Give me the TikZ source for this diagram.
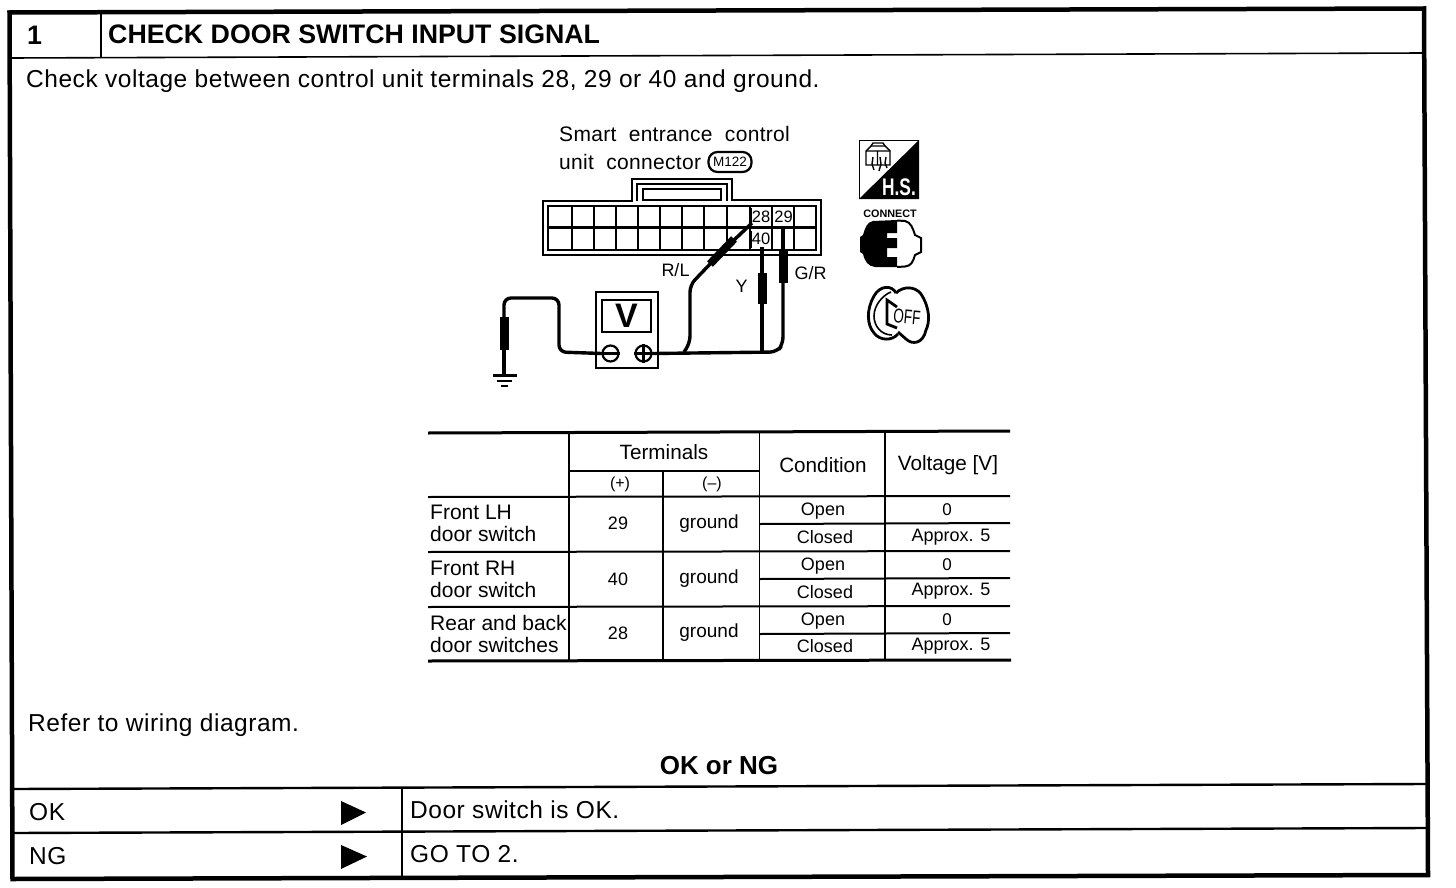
\documentclass[tikz,border=0pt]{standalone}
\usepackage{fontspec}
\setmainfont{Liberation Sans}
\begin{document}
\begin{tikzpicture}[x=1pt,y=-1pt,
            thin line/.style={line width=1.6pt},
            thick line/.style={line width=3pt},
            wire/.style={line width=3.4pt,rounded corners=7pt},
            probe/.style={line width=9pt},
            tip/.style={line width=4pt},
            body text/.style={inner sep=0pt,anchor=base west,font=\fontsize{24.5}{26}\selectfont\addfontfeature{LetterSpace=2.2}},
            title text/.style={inner sep=0pt,anchor=base west,font=\fontsize{26.75}{28}\selectfont\bfseries},
            small text/.style={inner sep=0pt,font=\fontsize{20.7}{23}\selectfont},
            pin text/.style={inner sep=0pt,font=\fontsize{16.5}{17}\selectfont}]

        \useasboundingbox (0,0) rectangle (1456,888);

        % Define frame
        \draw[line width=4.5pt,line join=miter] (9.5,12.5) -- (1424,8.5) -- (1428,875) -- (12.5,879) -- cycle;
        \draw[thin line] (10,58) -- (1424,53);
        \draw[thin line] (101,13) -- (101,57);
        \draw[line width=2.4pt] (12,789) -- (1426,784);
        \draw[line width=2.4pt] (12,833) -- (1427,828);
        \draw[thin line] (402,788) -- (402,877);

        % Define texts
        \node[title text] (num) at (27,45) {1};
        \node[title text] (title) at (108,44) {CHECK DOOR SWITCH INPUT SIGNAL};
        \node[body text] (check) at (26,88) {Check voltage between control unit terminals 28, 29 or 40 and ground.};
        \node[body text] (refer) at (28,731) {Refer to wiring diagram.};
        \node[title text,anchor=base,font=\fontsize{26}{28}\selectfont\bfseries] (oking) at (719,774) {OK or NG};
        \node[body text] (ok) at (29,820) {OK};
        \node[body text] (ng) at (29,864) {NG};
        \node[body text] (isok) at (410,818) {Door switch is OK.};
        \node[body text] (goto) at (410,862) {GO TO 2.};
        \fill (341,801) -- (366,812.5) -- (341,825) -- cycle;
        \fill (341,845) -- (367,856.5) -- (341,869) -- cycle;

        % Define connector
        \node[inner sep=0pt,anchor=base west,font=\fontsize{21}{23}\selectfont\addfontfeature{LetterSpace=1.5}] (smart) at (559,142) {Smart \ entrance \ control};
        \node[inner sep=0pt,anchor=base west,font=\fontsize{21}{23}\selectfont\addfontfeature{LetterSpace=1.5}] (unit) at (559,169) {unit \ connector};
        \node[draw,line width=2.2pt,rounded corners=9pt,inner sep=0pt,minimum width=43pt,minimum height=20pt,
              font=\fontsize{13.5}{15}\selectfont] (m122) at (730,162) {M122};
        \draw[thin line] (543,201) -- (632,201) -- (632,179) -- (732,179) -- (732,200) -- (821,200) -- (821,255) -- (543,255) -- cycle;
        \draw[thin line] (637,201) -- (637,184) -- (727,184) -- (727,201);
        \draw[line width=2pt] (642.5,189) rectangle (720.5,200);
        \draw[line width=2.2pt] (548,206) rectangle (816,250);
        \draw[line width=2.6pt] (548,227.5) -- (816,227.5);
        \foreach \xpos in {572,594,616,638,660,682,704,727,750,772,794}
            \draw[line width=1.8pt] (\xpos,206) -- (\xpos,250);
        \fill[white] (752,208) rectangle (770.5,225.5);
        \fill[white] (774,208) rectangle (792.5,225.5);
        \fill[white] (752,230) rectangle (770.5,248);
        \draw[line width=3pt] (750,208) -- (750,225) (750,231) -- (750,248);
        \node[pin text] (p28) at (761,216.5) {28};
        \node[pin text] (p29) at (783.5,216.5) {29};
        \node[pin text] (p40) at (761,239) {40};

        % Define meter
        \draw[line width=2.6pt] (596,292) rectangle (658,368);
        \draw[line width=2.6pt] (602,300) rectangle (651,332);
        \node[inner sep=0pt,font=\fontsize{34}{36}\selectfont\bfseries] (volt) at (626.5,316) {V};
        \node[draw,circle,line width=2.2pt,minimum size=16pt,inner sep=0pt] (minus) at (610.5,353.5) {};
        \node[draw,circle,line width=2.2pt,minimum size=16pt,inner sep=0pt] (plus) at (643.5,353.5) {};
        \draw[line width=2.2pt] (minus.west) -- (minus.east);
        \draw[line width=2.2pt] (plus.west) -- (plus.east) (plus.north) -- (plus.south);

        % Define wires
        \coordinate (tipa) at (752,223);
        \coordinate (tipb) at (762,247);
        \coordinate (tipc) at (783,228);
        \coordinate (joina) at (684,352);
        \coordinate (joinb) at (762,352);
        \coordinate (earth) at (504,375);
        \draw[wire] (plus.east) -- (777,352) -- (783,344) -- (783,282);
        \draw[wire] (joina) -- (690,343) -- (690,285) -- (712,262);
        \draw[wire] (joinb) -- (762,300);
        \draw[wire] (minus.west) -- (559,352) -- (559,298) -- (504,298) -- (504,320);
        \draw[line width=3.5pt] (tipa) -- (733,241);
        \draw[line width=8pt] (734,239) -- (710,264);
        \draw[tip] (tipb) -- (762,275);
        \draw[probe] (762,273) -- (762,304);
        \draw[tip] (tipc) -- (783,252);
        \draw[probe] (783,250) -- (783,283);
        \draw[probe] (504,317) -- (504,350);
        \draw[tip] (504,350) -- (earth);
        \draw[line width=2.2pt] (493,375.5) -- (517,375.5);
        \draw[line width=2.2pt] (497,381) -- (512,381);
        \draw[line width=2.2pt] (501,386) -- (508,386);

        % Wire labels
        \node[pin text,font=\fontsize{18}{19}\selectfont] (rl) at (675.5,270) {R/L};
        \node[pin text,font=\fontsize{18}{19}\selectfont] (yw) at (741.5,286) {Y};
        \node[pin text,font=\fontsize{18}{19}\selectfont] (gr) at (810.5,273.5) {G/R};

        % Define icons
        \draw[line width=1.5pt] (859.5,140.5) rectangle (918.5,198.5);
        \fill (919,140) -- (919,199) -- (859,199) -- cycle;
        \node[inner sep=0pt,white,xscale=.72,font=\fontsize{24}{25}\selectfont\bfseries] (hs) at (899,187) {H.S.};
        \draw[line width=1.4pt] (866,151) -- (871,146) -- (885,146) -- (890,151) -- (890,165) -- (866,165) -- cycle;
        \draw[line width=1.4pt] (866,151) -- (890,151) (871,146) -- (873,143) -- (883,143) -- (885,146) (877.5,151) -- (877.5,165);
        \draw[line width=1.4pt] (873,157) -- (872,164) -- (874,170) (880,157) -- (881,164) -- (879,171) (886,157) -- (885,163) -- (887,168);
        \node[inner sep=0pt,font=\fontsize{10.8}{11}\selectfont\bfseries] (conn) at (890,214) {CONNECT};
        \fill (897,220) -- (873,221) .. controls (867,222) and (865,228) .. (863,235) -- (860,237) -- (860,252)
            -- (863,254) .. controls (865,262) and (868,266) .. (875,267) -- (897,267) -- (897,257) -- (887,257) -- (887,248)
            -- (897,248) -- (897,238) -- (887,238) -- (887,233) -- (897,233) -- cycle;
        \draw[line width=2pt] (897,220.5) -- (905,221) .. controls (911,222) and (913,229) .. (915,235) -- (921,238) -- (921,252)
            -- (915,255) .. controls (913,262) and (911,266) .. (905,266.5) -- (897,267);
        % key
        \draw[line width=2.8pt] (896,293) .. controls (892,285) and (880,285) .. (874,296) .. controls (866,310) and (867,325) .. (874,333)
            .. controls (880,341) and (892,341) .. (898,334);
        \draw[line width=1.6pt] (891,292) .. controls (883,295) and (874,305) .. (874,316) .. controls (874,326) and (881,335) .. (892,335);
        \draw[line width=2.8pt] (896,293) .. controls (903,286) and (915,286) .. (921,294) .. controls (930,308) and (930,322) .. (926,330)
            .. controls (923,344) and (912,345) .. (906,339) -- (898,332);
        \draw[line width=2.8pt] (897,307) -- (887,300) -- (887,324) -- (897,328);
        \node[inner sep=0pt,rotate=-5,xscale=.68,font=\fontsize{20}{21}\selectfont] (off) at (907,317) {OFF};

        % Define table
        \draw[thick line] (428,433) -- (1010,431);
        \draw[line width=2pt] (428,497) -- (1010,496);
        \draw[line width=2pt] (428,552) -- (1010,551);
        \draw[line width=2pt] (428,607) -- (1010,606);
        \draw[thick line] (428,661) -- (1011,660);
        \draw[line width=2pt] (568,471) -- (760,471);
        \draw[line width=1.6pt] (569,433) -- (569,661);
        \draw[line width=1.6pt] (663,471) -- (663,661);
        \draw[line width=1.6pt] (759.5,432) -- (759.5,661);
        \draw[line width=1.6pt] (885,431) -- (885,660);
        \foreach \ypos in {524,579,634}
            \draw[line width=2pt] (760,\ypos) -- (1010,\ypos-1);

        \node[small text] (terminals) at (664,452) {Terminals};
        \node[small text,font=\fontsize{16}{18}\selectfont] (pos) at (620,484) {(+)};
        \node[small text,font=\fontsize{16}{18}\selectfont] (neg) at (712,484) {(--)};
        \node[small text] (condition) at (823,465) {Condition};
        \node[small text] (voltage) at (948,465) {Voltage [V]};

        \node[small text,anchor=base west,font=\fontsize{21}{23}\selectfont] (fl) at (430,519) {Front LH};
        \node[small text,anchor=base west,font=\fontsize{21}{23}\selectfont] (fls) at (430,541) {door switch};
        \node[small text,anchor=base west,font=\fontsize{21}{23}\selectfont] (fr) at (430,575) {Front RH};
        \node[small text,anchor=base west,font=\fontsize{21}{23}\selectfont] (frs) at (430,597) {door switch};
        \node[small text,anchor=base west,font=\fontsize{21}{23}\selectfont] (rb) at (430,630) {Rear and back};
        \node[small text,anchor=base west,font=\fontsize{21}{23}\selectfont] (rbs) at (430,652) {door switches};

        \node[small text,font=\fontsize{18}{20}\selectfont] (t29) at (618,523) {29};
        \node[small text,font=\fontsize{18}{20}\selectfont] (t40) at (618,579) {40};
        \node[small text,font=\fontsize{18}{20}\selectfont] (t28) at (618,633) {28};
        \foreach \name/\ypos in {ga/524,gb/579,gc/633}
            \node[small text,font=\fontsize{19}{21}\selectfont] (\name) at (709,\ypos) {ground};

        \foreach \name/\ypos in {ra/511.5,rb/566.5,rc/621.5}
            \node[small text,font=\fontsize{18}{20}\selectfont] (open\name) at (823,\ypos) {Open};
        \foreach \name/\ypos in {ra/537.5,rb/592.5,rc/646.5}
            \node[small text,font=\fontsize{18}{20}\selectfont] (closed\name) at (825,\ypos) {Closed};
        \foreach \name/\ypos in {ra/510,rb/565,rc/620}
            \node[small text,font=\fontsize{17}{19}\selectfont] (zero\name) at (947,\ypos) {0};
        \foreach \name/\ypos in {ra/537,rb/591,rc/646}
            \node[small text,font=\fontsize{18}{20}\selectfont] (approx\name) at (951,\ypos) {Approx. 5};

\end{tikzpicture}
\end{document}
